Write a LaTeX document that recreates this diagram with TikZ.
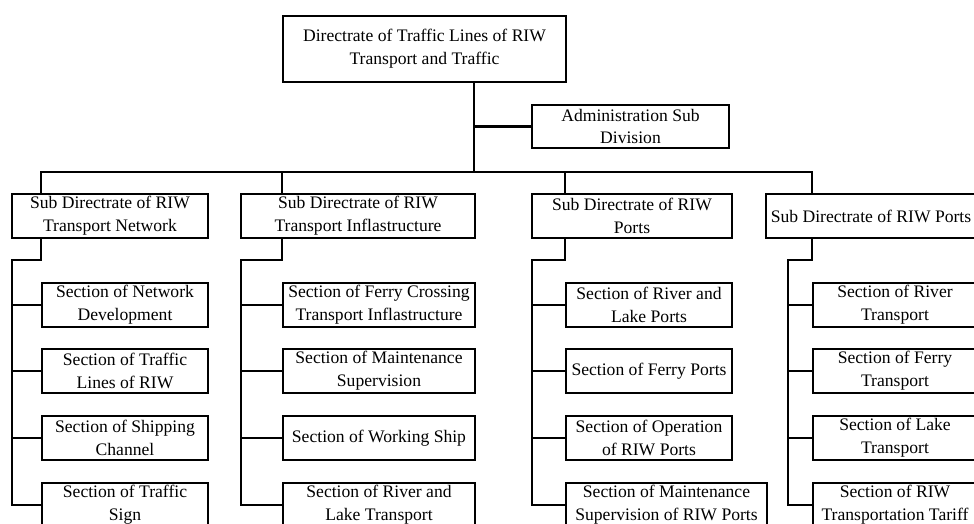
\documentclass[tikz,border=0pt]{standalone}
\usepackage{fontspec}
\setmainfont{Liberation Serif}
\begin{document}
\begin{tikzpicture}[x=1pt,y=-1pt,
  box/.style={draw, line width=2.2pt, align=center, inner sep=0pt,
    font=\fontsize{17.6}{22.8}\selectfont, minimum height=44pt},
  conn/.style={line width=2.2pt, line cap=rect}]
\useasboundingbox (0,0) rectangle (974,523);
\clip (0,0) rectangle (974,523);
% top
\node[box, minimum width=283pt, minimum height=66pt] (top) at (424.5,49) {Directrate of Traffic Lines of RIW\\Transport and Traffic};
\node[box, minimum width=197pt, minimum height=43pt] (admin) at (630.5,126.5) {Administration Sub\\Division};
% sub directrates
\node[box, minimum width=196pt] (sub1) at (110,216) {Sub Directrate of RIW\\Transport Network};
\node[box, minimum width=234pt] (sub2) at (358,216) {Sub Directrate of RIW\\Transport Inflastructure};
\node[box, minimum width=200pt] (sub3) at (632,216) {Sub Directrate of RIW\\Ports};
\node[box, minimum width=210pt] (sub4) at (871,216) {Sub Directrate of RIW Ports};
% column 1
\node[box, minimum width=166pt] (s11) at (125,305) {Section of Network\\Development};
\node[box, minimum width=166pt] (s12) at (125,371) {Section of Traffic\\Lines of RIW};
\node[box, minimum width=166pt] (s13) at (125,438) {Section of Shipping\\Channel};
\node[box, minimum width=166pt] (s14) at (125,505) {Section of Traffic\\Sign};
% column 2
\node[box, minimum width=192pt] (s21) at (379,305) {Section of Ferry Crossing\\Transport Inflastructure};
\node[box, minimum width=192pt] (s22) at (379,371) {Section of Maintenance\\Supervision};
\node[box, minimum width=192pt] (s23) at (379,438) {Section of Working Ship};
\node[box, minimum width=192pt] (s24) at (379,505) {Section of River and\\Lake Transport};
% column 3
\node[box, minimum width=166pt] (s31) at (649,305) {Section of River and\\Lake Ports};
\node[box, minimum width=166pt] (s32) at (649,371) {Section of Ferry Ports};
\node[box, minimum width=166pt] (s33) at (649,438) {Section of Operation\\of RIW Ports};
\node[box, minimum width=201pt] (s34) at (666.5,505) {Section of Maintenance\\Supervision of RIW Ports};
% column 4
\node[box, minimum width=164pt] (s41) at (895,305) {Section of River\\Transport};
\node[box, minimum width=164pt] (s42) at (895,371) {Section of Ferry\\Transport};
\node[box, minimum width=164pt] (s43) at (895,438) {Section of Lake\\Transport};
\node[box, minimum width=164pt] (s44) at (895,505) {Section of RIW\\Transportation Tariff};
% junction coordinates
\coordinate (tj) at (474,172);
\coordinate (k1) at (12,260);
\coordinate (k2) at (241,260);
\coordinate (k3) at (532,260);
\coordinate (k4) at (788,260);
% top connectors
\draw[conn] (top.south -| tj) -- (tj);
\draw[conn] (admin.west) -- (admin.west -| tj);
\draw[conn] (sub1.north -| s11.west) -- (s11.west |- tj) -- (s41.west |- tj) -- (sub4.north -| s41.west);
\draw[conn] (sub2.north -| s21.west) -- (s21.west |- tj);
\draw[conn] (sub3.north -| s31.west) -- (s31.west |- tj);
% column connectors
\foreach \c in {1,2,3,4}{
  \draw[conn] (sub\c.south -| s\c1.west) |- (k\c) |- (s\c4.west);
  \draw[conn] (k\c |- s\c1.west) -- (s\c1.west);
  \draw[conn] (k\c |- s\c2.west) -- (s\c2.west);
  \draw[conn] (k\c |- s\c3.west) -- (s\c3.west);
}
\end{tikzpicture}
\end{document}
